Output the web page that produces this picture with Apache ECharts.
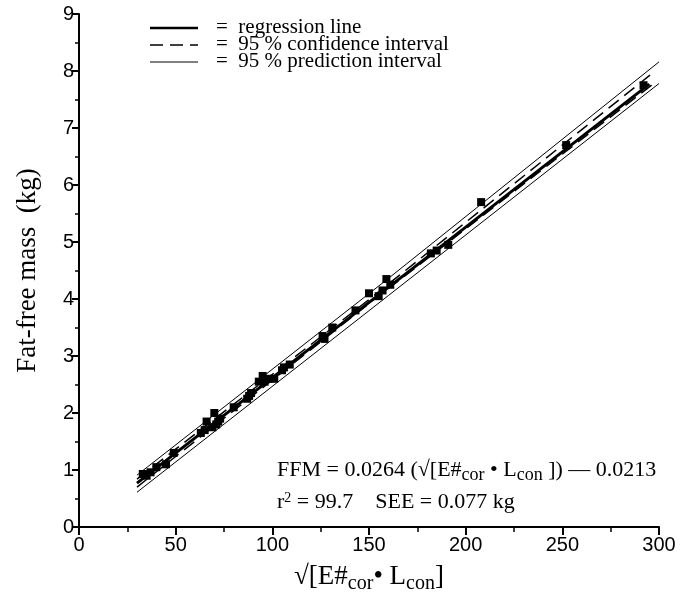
<!DOCTYPE html>
<html>
<head>
<meta charset="utf-8">
<script src="https://cdn.jsdelivr.net/npm/echarts@6/dist/echarts.min.js"></script>
<style>
  html, body { margin: 0; padding: 0; background: #fff; }
  #main { width: 694px; height: 592px; }
</style>
</head>
<body>
<div id="main"></div>
<script>
// measured points: [sqrt(E#cor * Lcon), FFM kg]
var points = [
  [33, 0.93], [35, 0.90], [37, 0.96], [40, 1.05], [45, 1.10], [49, 1.30],
  [63, 1.65], [65, 1.70], [66, 1.85], [69, 1.75], [70, 2.00], [71, 1.80],
  [72, 1.85], [73, 1.90], [80, 2.10], [87, 2.25], [88, 2.30], [89, 2.35],
  [93, 2.55], [95, 2.65], [96, 2.55], [98, 2.60], [101, 2.60], [105, 2.75],
  [106, 2.80], [109, 2.85], [126, 3.35], [127, 3.30], [131, 3.50], [143, 3.80],
  [150, 4.10], [155, 4.05], [157, 4.15], [159, 4.35], [161, 4.25], [182, 4.80],
  [185, 4.85], [191, 4.95], [208, 5.70], [252, 6.70], [292, 7.75]
];
var regression = [[30, 0.77], [295, 7.77]];
var confUpper = [[30, 0.84], [150, 3.99], [298, 8.00]];
var confLower = [[30, 0.70], [150, 3.92], [298, 7.80]];
var predUpper = [[30, 0.91], [160, 4.36], [300, 8.16]];
var predLower = [[30, 0.61], [160, 4.06], [300, 7.78]];
var xTicks = [0, 50, 100, 150, 200, 250, 300];
var yTicks = [0, 1, 2, 3, 4, 5, 6, 7, 8, 9];

var serif = 'Liberation Serif';
var sans = 'Liberation Sans';

var chart = echarts.init(document.getElementById('main'));

function lineSeries(data, width, type) {
  return {
    type: 'line',
    data: data,
    symbol: 'none',
    silent: true,
    lineStyle: { color: '#000', width: width, type: type }
  };
}

chart.setOption({
  animation: false,
  backgroundColor: '#fff',
  grid: { left: 79, right: 35, top: 14, bottom: 65, outerBoundsMode: 'none' },
  xAxis: {
    type: 'value',
    min: xTicks[0],
    max: xTicks[xTicks.length - 1],
    interval: 50,
    name: '√[E#{sub|cor}• L{sub|con}]',
    nameLocation: 'middle',
    nameGap: 33,
    nameTextStyle: {
      fontFamily: serif, fontSize: 27, color: '#000',
      rich: { sub: { fontFamily: serif, fontSize: 20, color: '#000', padding: [14, 0, 0, 0] } }
    },
    axisLine: { lineStyle: { color: '#000', width: 2 } },
    axisTick: { inside: false, length: 8, lineStyle: { color: '#000', width: 2 } },
    minorTick: { show: true, splitNumber: 2, length: 5, lineStyle: { color: '#000', width: 1.5 } },
    axisLabel: { fontFamily: sans, fontSize: 20, color: '#000', margin: 8 },
    splitLine: { show: false }
  },
  yAxis: {
    type: 'value',
    min: yTicks[0],
    max: yTicks[yTicks.length - 1],
    interval: 1,
    name: 'Fat-free mass  (kg)',
    nameLocation: 'middle',
    nameGap: 38,
    nameTextStyle: { fontFamily: serif, fontSize: 27, color: '#000' },
    axisLine: { show: true, lineStyle: { color: '#000', width: 2 } },
    axisTick: { show: true, length: 7, lineStyle: { color: '#000', width: 2 } },
    minorTick: { show: true, splitNumber: 2, length: 4, lineStyle: { color: '#000', width: 1.5 } },
    axisLabel: { fontFamily: sans, fontSize: 20, color: '#000', margin: 5 },
    splitLine: { show: false }
  },
  series: [
    lineSeries(predUpper, 1, 'solid'),
    lineSeries(predLower, 1, 'solid'),
    lineSeries(confUpper, 1.5, [13, 7]),
    lineSeries(confLower, 1.5, [13, 7]),
    lineSeries(regression, 3, 'solid'),
    {
      type: 'scatter',
      data: points,
      symbol: 'rect',
      symbolSize: 8,
      itemStyle: { color: '#000', opacity: 1 }
    }
  ],
  graphic: [
    { type: 'line', shape: { x1: 150, y1: 28, x2: 198, y2: 28 }, style: { stroke: '#000', lineWidth: 2.5 } },
    { type: 'line', shape: { x1: 150, y1: 45, x2: 198, y2: 45 }, style: { stroke: '#000', lineWidth: 1.5, lineDash: [13, 7] } },
    { type: 'line', shape: { x1: 150, y1: 62, x2: 198, y2: 62 }, style: { stroke: '#000', lineWidth: 1 } },
    { type: 'text', left: 216, top: 17, style: { text: '=  regression line', font: '21px "Liberation Serif"', fill: '#000' } },
    { type: 'text', left: 216, top: 34, style: { text: '=  95 % confidence interval', font: '21px "Liberation Serif"', fill: '#000' } },
    { type: 'text', left: 216, top: 51, style: { text: '=  95 % prediction interval', font: '21px "Liberation Serif"', fill: '#000' } },
    {
      type: 'text', left: 277, top: 459,
      style: {
        text: 'FFM = 0.0264 (√[E#{sub|cor} • L{sub|con} ]) — 0.0213',
        font: '22px "Liberation Serif"', fill: '#000',
        rich: { sub: { fontFamily: serif, fontSize: 18, fill: '#000', padding: [11, 0, 0, 0] } }
      }
    },
    {
      type: 'text', left: 277, top: 491,
      style: {
        text: 'r{sup|2} = 99.7    SEE = 0.077 kg',
        font: '22px "Liberation Serif"', fill: '#000',
        rich: { sup: { fontFamily: serif, fontSize: 14, fill: '#000', padding: [0, 0, 9, 0] } }
      }
    }
  ]
});
</script>
</body>
</html>
